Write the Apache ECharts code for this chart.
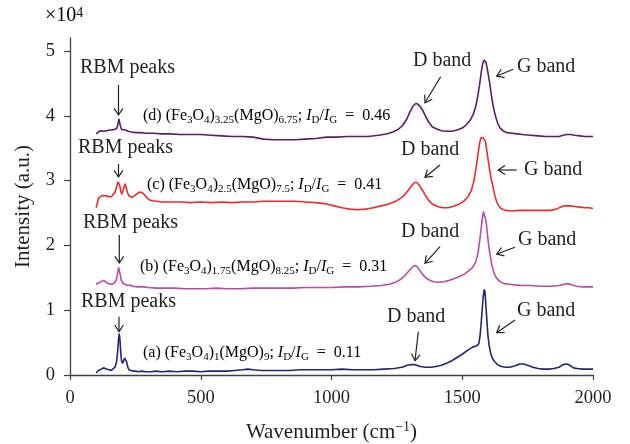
<!DOCTYPE html>
<html>
<head>
<meta charset="utf-8">
<script src="https://cdn.jsdelivr.net/npm/echarts@6/dist/echarts.min.js"></script>
<style>html,body{margin:0;padding:0;background:#fff}#c{width:630px;height:444px}</style>
</head>
<body>
<div id="c"></div>
<script>
// Intensity values in units of 10^4 (a.u.), wavenumber in cm^-1
const xTicks = [0, 500, 1000, 1500, 2000];
const yTicks = [0, 1, 2, 3, 4, 5];

const seriesA = [[100,0.03],[105,0.06],[112,0.08],[120,0.09],[128,0.11],[135,0.10],[142,0.09],[150,0.08],[158,0.07],[165,0.09],[172,0.12],[178,0.2],[182,0.35],[185,0.52],[188,0.64],[191,0.55],[194,0.35],[197,0.22],[201,0.18],[205,0.2],[209,0.26],[213,0.28],[217,0.2],[221,0.12],[226,0.08],[232,0.07],[240,0.06],[250,0.06],[262,0.05],[275,0.06],[290,0.05],[310,0.05],[330,0.06],[350,0.05],[380,0.06],[410,0.05],[440,0.06],[470,0.06],[500,0.05],[530,0.06],[560,0.06],[600,0.06],[630,0.07],[660,0.08],[680,0.09],[700,0.08],[730,0.07],[760,0.07],[800,0.07],[840,0.07],[880,0.08],[920,0.08],[960,0.08],[1000,0.08],[1040,0.09],[1080,0.08],[1120,0.08],[1160,0.08],[1200,0.09],[1240,0.1],[1270,0.12],[1290,0.15],[1305,0.16],[1320,0.16],[1340,0.13],[1360,0.12],[1380,0.12],[1400,0.13],[1420,0.15],[1440,0.18],[1460,0.22],[1480,0.27],[1500,0.32],[1520,0.38],[1540,0.43],[1555,0.45],[1563,0.48],[1568,0.6],[1572,0.78],[1576,1.0],[1580,1.2],[1584,1.32],[1587,1.28],[1590,1.1],[1594,0.85],[1598,0.62],[1603,0.45],[1609,0.33],[1616,0.25],[1625,0.2],[1635,0.16],[1650,0.13],[1665,0.12],[1680,0.12],[1700,0.14],[1720,0.17],[1735,0.17],[1750,0.15],[1770,0.12],[1790,0.1],[1810,0.09],[1830,0.09],[1850,0.1],[1870,0.12],[1885,0.16],[1900,0.17],[1912,0.15],[1925,0.11],[1940,0.1],[1960,0.09],[1980,0.09],[2000,0.09]];

const seriesB = [[100,1.40],[108,1.42],[118,1.44],[128,1.46],[134,1.45],[142,1.42],[150,1.41],[160,1.40],[170,1.42],[177,1.47],[182,1.56],[186,1.66],[189,1.64],[192,1.55],[196,1.46],[202,1.42],[210,1.40],[220,1.38],[230,1.39],[240,1.37],[260,1.36],[280,1.36],[300,1.35],[330,1.34],[360,1.34],[400,1.34],[440,1.33],[480,1.33],[520,1.33],[560,1.34],[600,1.33],[650,1.33],[700,1.34],[750,1.34],[800,1.34],[850,1.34],[900,1.35],[950,1.35],[1000,1.35],[1050,1.36],[1100,1.36],[1150,1.37],[1190,1.38],[1220,1.40],[1245,1.43],[1265,1.48],[1280,1.53],[1295,1.6],[1308,1.66],[1318,1.69],[1326,1.68],[1335,1.63],[1345,1.57],[1358,1.51],[1372,1.47],[1390,1.44],[1410,1.43],[1430,1.44],[1450,1.46],[1470,1.49],[1490,1.52],[1510,1.56],[1525,1.61],[1540,1.66],[1552,1.75],[1560,1.88],[1566,2.05],[1572,2.25],[1577,2.42],[1581,2.52],[1584,2.55],[1587,2.52],[1591,2.38],[1596,2.18],[1601,2.0],[1607,1.84],[1614,1.68],[1622,1.57],[1632,1.49],[1645,1.44],[1660,1.41],[1680,1.40],[1700,1.39],[1730,1.38],[1760,1.38],[1800,1.37],[1840,1.37],[1870,1.38],[1890,1.4],[1905,1.41],[1920,1.39],[1940,1.37],[1960,1.36],[1980,1.36],[2000,1.36]];

const seriesC = [[100,2.58],[103,2.62],[107,2.70],[112,2.74],[120,2.76],[128,2.77],[135,2.77],[142,2.76],[150,2.75],[158,2.75],[165,2.77],[172,2.82],[178,2.9],[183,2.98],[186,2.99],[190,2.93],[194,2.84],[198,2.79],[202,2.81],[207,2.9],[211,2.95],[214,2.93],[218,2.84],[224,2.77],[230,2.75],[237,2.74],[245,2.76],[255,2.79],[265,2.82],[275,2.82],[285,2.78],[295,2.73],[305,2.70],[315,2.69],[330,2.68],[350,2.67],[380,2.67],[420,2.67],[460,2.66],[500,2.67],[540,2.66],[580,2.67],[620,2.66],[660,2.67],[700,2.67],[740,2.68],[780,2.68],[820,2.68],[860,2.68],[900,2.67],[940,2.66],[980,2.64],[1010,2.61],[1040,2.58],[1070,2.56],[1100,2.55],[1130,2.56],[1160,2.58],[1190,2.61],[1220,2.64],[1245,2.68],[1265,2.73],[1280,2.78],[1295,2.86],[1308,2.93],[1318,2.97],[1326,2.97],[1335,2.93],[1345,2.87],[1358,2.78],[1372,2.69],[1388,2.63],[1405,2.6],[1425,2.58],[1445,2.58],[1465,2.6],[1485,2.63],[1505,2.68],[1522,2.75],[1535,2.85],[1545,3.0],[1553,3.2],[1560,3.4],[1566,3.57],[1571,3.66],[1575,3.68],[1580,3.66],[1585,3.67],[1589,3.6],[1594,3.46],[1599,3.32],[1605,3.16],[1611,3.02],[1618,2.9],[1626,2.74],[1636,2.63],[1648,2.57],[1665,2.54],[1690,2.53],[1720,2.54],[1750,2.54],[1780,2.54],[1810,2.54],[1840,2.54],[1860,2.56],[1875,2.59],[1890,2.61],[1910,2.61],[1930,2.6],[1950,2.59],[1970,2.58],[1985,2.58],[2000,2.57]];

const seriesD = [[100,3.72],[105,3.75],[112,3.76],[120,3.77],[130,3.76],[140,3.77],[150,3.78],[160,3.78],[170,3.79],[178,3.8],[183,3.86],[187,3.95],[190,3.94],[193,3.84],[197,3.79],[203,3.78],[212,3.78],[222,3.76],[235,3.75],[250,3.74],[270,3.74],[290,3.73],[320,3.73],[350,3.72],[380,3.72],[420,3.71],[460,3.71],[500,3.71],[540,3.7],[580,3.69],[620,3.68],[660,3.68],[700,3.67],[740,3.64],[780,3.63],[820,3.63],[860,3.63],[900,3.64],[940,3.65],[980,3.67],[1020,3.67],[1060,3.68],[1100,3.68],[1140,3.68],[1180,3.7],[1210,3.72],[1235,3.75],[1255,3.79],[1272,3.85],[1288,3.95],[1300,4.06],[1312,4.15],[1322,4.19],[1330,4.18],[1338,4.15],[1348,4.09],[1360,3.99],[1372,3.9],[1385,3.83],[1400,3.8],[1420,3.77],[1440,3.76],[1460,3.76],[1480,3.78],[1500,3.81],[1515,3.86],[1530,3.93],[1542,4.02],[1552,4.15],[1560,4.32],[1567,4.5],[1573,4.68],[1578,4.8],[1583,4.86],[1587,4.86],[1591,4.82],[1596,4.72],[1602,4.58],[1608,4.42],[1615,4.22],[1622,4.08],[1628,3.98],[1636,3.88],[1645,3.81],[1655,3.77],[1670,3.74],[1690,3.73],[1710,3.72],[1730,3.71],[1760,3.7],[1790,3.69],[1820,3.68],[1850,3.68],[1870,3.68],[1885,3.7],[1900,3.71],[1915,3.71],[1930,3.7],[1950,3.69],[1970,3.68],[2000,3.68]];

const seriesNames = ['(a)', '(b)', '(c)', '(d)'];
const seriesColors = ['#23237a', '#bb4aa8', '#ee2a2a', '#5c1c68'];

const FONT = '"Liberation Serif","DejaVu Serif",serif';
const INK = '#231f20';

const formulaRich = {
  n: {fontFamily: FONT, fontSize: 16, color: INK, lineHeight: 20, verticalAlign: 'middle'},
  i: {fontFamily: FONT, fontSize: 16, fontStyle: 'italic', color: INK, lineHeight: 20, verticalAlign: 'middle'},
  s: {fontFamily: FONT, fontSize: 11, color: INK, lineHeight: 10, verticalAlign: 'bottom'}
};

const labelTexts = [
  '{n|(a) (Fe}{s|3}{n|O}{s|4}{n|)}{s|1}{n|(MgO)}{s|9}{n|; }{i|I}{s|D}{n|/}{i|I}{s|G}{n|  =  0.11}',
  '{n|(b) (Fe}{s|3}{n|O}{s|4}{n|)}{s|1.75}{n|(MgO)}{s|8.25}{n|; }{i|I}{s|D}{n|/}{i|I}{s|G}{n|  =  0.31}',
  '{n|(c) (Fe}{s|3}{n|O}{s|4}{n|)}{s|2.5}{n|(MgO)}{s|7.5}{n|; }{i|I}{s|D}{n|/}{i|I}{s|G}{n|  =  0.41}',
  '{n|(d) (Fe}{s|3}{n|O}{s|4}{n|)}{s|3.25}{n|(MgO)}{s|6.75}{n|; }{i|I}{s|D}{n|/}{i|I}{s|G}{n|  =  0.46}'
];

// Annotation layout (pixels)
const labelPos = [[143, 353], [140, 267], [147, 185], [143, 116]];
const rbmPos = [[81, 302], [83, 223], [78, 148], [80, 68]];
const dPos = [[387, 317], [401, 232], [401, 150], [413, 61]];
const gPos = [[517, 311], [518, 240], [524, 170], [517, 67]];
const arrows = [
  [118.5, 85, 118.5, 115], [440.7, 76.7, 425, 102.7], [513.3, 69.3, 496.7, 76],
  [118.5, 164, 118.5, 177], [440, 165, 425, 177.3], [516.7, 170, 498.3, 170],
  [119.3, 235, 119.3, 263], [440, 246.7, 425, 263.3], [515, 247.3, 496.7, 254],
  [119, 316.7, 119, 331.7], [418.3, 331.7, 415, 360.7], [515, 320, 496.7, 332.7]
];

function arrow(tx, ty, hx, hy) {
  const dx = hx - tx, dy = hy - ty, len = Math.hypot(dx, dy);
  const bx = -dx / len, by = -dy / len;
  const L = 8, a = 0.58, c = Math.cos(a), s = Math.sin(a);
  const p1 = [hx + L * (bx * c - by * s), hy + L * (bx * s + by * c)];
  const p2 = [hx + L * (bx * c + by * s), hy + L * (-bx * s + by * c)];
  return [
    {type: 'line', silent: true, shape: {x1: tx, y1: ty, x2: hx, y2: hy}, style: {stroke: INK, lineWidth: 1.2}},
    {type: 'polyline', silent: true, shape: {points: [p1, [hx, hy], p2]}, style: {stroke: INK, lineWidth: 1.2, fill: null}}
  ];
}

function bigText(txt, pos) {
  return {type: 'text', silent: true, x: pos[0], y: pos[1],
    style: {text: txt, fontFamily: FONT, fontSize: 20, fill: INK, align: 'left', verticalAlign: 'middle'}};
}

const graphics = [];
for (let k = 0; k < 4; k++) {
  graphics.push({type: 'text', silent: true, x: labelPos[k][0], y: labelPos[k][1],
    style: {text: labelTexts[k], rich: formulaRich, align: 'left', verticalAlign: 'middle'}});
  graphics.push(bigText('RBM peaks', rbmPos[k]));
  graphics.push(bigText('D band', dPos[k]));
  graphics.push(bigText('G band', gPos[k]));
}
arrows.forEach(a => graphics.push(...arrow(a[0], a[1], a[2], a[3])));
graphics.push({type: 'text', silent: true, x: 45, y: 16,
  style: {text: '{m|×10}{p|4}', align: 'left', verticalAlign: 'middle',
    rich: {m: {fontFamily: FONT, fontSize: 20, color: INK, lineHeight: 20, verticalAlign: 'middle'},
           p: {fontFamily: FONT, fontSize: 14, color: INK, lineHeight: 10, verticalAlign: 'top'}}}});

const allSeries = [seriesA, seriesB, seriesC, seriesD].map((d, k) => ({
  name: seriesNames[k], type: 'line', data: d, showSymbol: false, symbol: 'none',
  lineStyle: {color: seriesColors[k], width: 1.6}, itemStyle: {color: seriesColors[k]},
  silent: true, z: 2
}));

const chart = echarts.init(document.getElementById('c'), null, {renderer: 'canvas'});
chart.setOption({
  animation: false,
  backgroundColor: '#fff',
  grid: {left: 70, right: 37, top: 38, bottom: 69, containLabel: false, outerBoundsMode: 'none'},
  xAxis: {
    type: 'value', min: 0, max: 2000, interval: 500,
    name: '{a|Wavenumber (cm}{b|−1}{a|)}', nameLocation: 'middle', nameGap: 45,
    nameTextStyle: {rich: {
      a: {fontFamily: FONT, fontSize: 21, color: INK, lineHeight: 24, verticalAlign: 'middle'},
      b: {fontFamily: FONT, fontSize: 14, color: INK, lineHeight: 12, verticalAlign: 'top'}}},
    axisLine: {lineStyle: {color: '#404040', width: 1.3}},
    axisTick: {show: true, inside: false, length: 5, lineStyle: {color: '#404040', width: 1.2}},
    axisLabel: {fontFamily: FONT, fontSize: 18.5, color: INK, margin: 14,
      customValues: xTicks, formatter: v => String(v)},
    splitLine: {show: false}
  },
  yAxis: {
    type: 'value', min: 0, max: 5.2, interval: 1,
    name: 'Intensity (a.u.)', nameLocation: 'middle', nameGap: 36,
    nameTextStyle: {fontFamily: FONT, fontSize: 21, color: INK},
    axisLine: {show: true, lineStyle: {color: '#404040', width: 1.3}},
    axisTick: {show: true, inside: false, length: 6, lineStyle: {color: '#404040', width: 1.2}, customValues: yTicks},
    axisLabel: {fontFamily: FONT, fontSize: 18.5, color: INK, margin: 15, customValues: yTicks, formatter: v => String(v)},
    splitLine: {show: false}
  },
  series: allSeries,
  graphic: graphics
});
</script>
</body>
</html>
